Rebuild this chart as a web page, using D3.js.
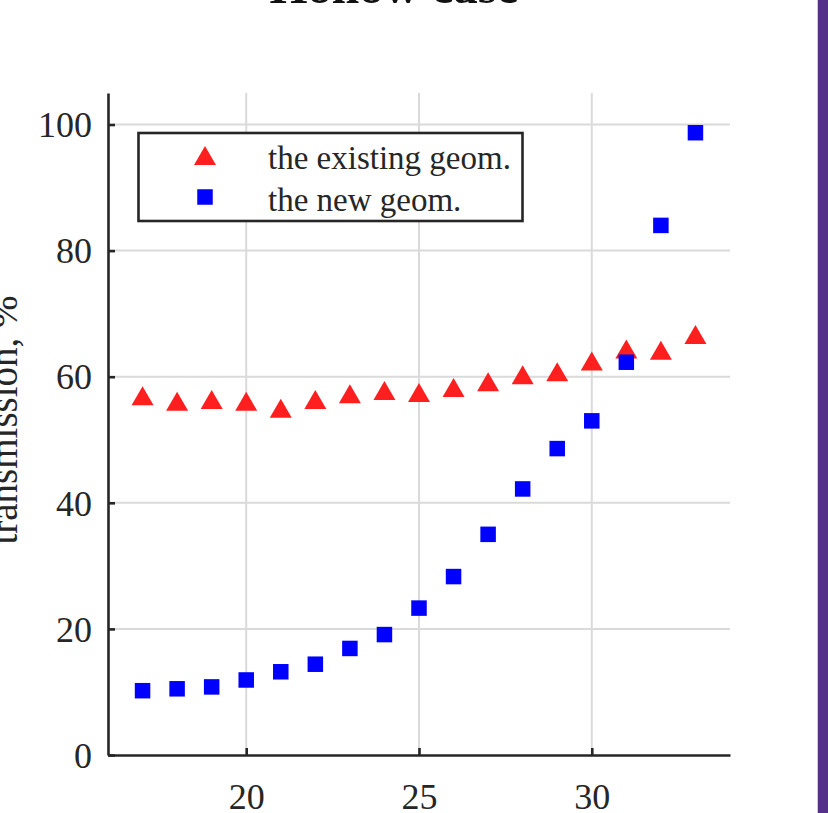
<!DOCTYPE html>
<html>
<head>
<meta charset="utf-8">
<script src="https://cdn.jsdelivr.net/npm/d3@7"></script>
<style>
  html, body { margin: 0; padding: 0; background: #ffffff; }
  svg { display: block; }
  text { font-family: "Liberation Serif", "Times New Roman", serif; fill: #262626; }
</style>
</head>
<body>
<svg id="chart" width="828" height="813"></svg>
<script>
// Transmission vs. x for the two geometries
const xValues = [17, 18, 19, 20, 21, 22, 23, 24, 25, 26, 27, 28, 29, 30, 31, 32, 33];
const existingGeom = [57.0, 56.1, 56.4, 56.1, 55.0, 56.4, 57.3, 57.8, 57.5, 58.3, 59.2, 60.3, 60.8, 62.5, 64.4, 64.2, 66.7];
const newGeom = [10.2, 10.5, 10.8, 11.9, 13.2, 14.4, 16.9, 19.1, 23.3, 28.3, 35.0, 42.2, 48.6, 53.0, 62.3, 84.0, 98.7];
const xTicks = [20, 25, 30];
const yTicks = [0, 20, 40, 60, 80, 100];
const seriesNames = ["the existing geom.", "the new geom."];
const titleText = "Hollow case";
const yLabelText = "transmission, %";

const svg = d3.select("#chart");
const W = 828, H = 813;
const axisColor = "#262626";

// side band on the right edge
svg.append("rect").attr("x", 817).attr("y", 0).attr("width", 1).attr("height", H).attr("fill", "#cfc8d8");
svg.append("rect").attr("x", 818).attr("y", 0).attr("width", 10).attr("height", H).attr("fill", "#553089");

const plot = { left: 108, right: 730, top: 93, bottom: 755 };
const x = d3.scaleLinear().domain([16, 34]).range([plot.left, plot.right]);
const y = d3.scaleLinear().domain([0, 105]).range([plot.bottom, plot.top]);

// title (sits at the very top edge)
svg.append("text")
  .attr("x", 394).attr("y", 3)
  .attr("text-anchor", "middle")
  .attr("font-size", 49).attr("font-weight", "bold")
  .style("fill", "#111")
  .text(titleText);

// grid lines
const grid = svg.append("g").attr("stroke", "#dadada").attr("stroke-width", 2);
grid.selectAll("line.gx").data(xTicks).join("line")
  .attr("x1", d => x(d)).attr("x2", d => x(d))
  .attr("y1", plot.top).attr("y2", plot.bottom);
grid.selectAll("line.gy").data(yTicks.filter(d => d > 0)).join("line")
  .attr("x1", plot.left).attr("x2", plot.right)
  .attr("y1", d => y(d)).attr("y2", d => y(d));

// axes with inward ticks
const xAxis = d3.axisBottom(x).tickValues(xTicks).tickSize(-7).tickPadding(28).tickSizeOuter(0);
const yAxis = d3.axisLeft(y).tickValues(yTicks).tickSize(-7).tickPadding(16).tickSizeOuter(0);

const gx = svg.append("g").attr("transform", `translate(0,${plot.bottom})`).call(xAxis);
const gy = svg.append("g").attr("transform", `translate(${plot.left},0)`).call(yAxis);
[gx, gy].forEach(g => {
  g.select(".domain").attr("stroke", axisColor).attr("stroke-width", 2.6);
  g.selectAll(".tick line").attr("stroke", axisColor).attr("stroke-width", 2.6);
  g.selectAll(".tick text")
    .attr("font-size", 36)
    .style("font-family", "'Liberation Serif', 'Times New Roman', serif")
    .style("fill", axisColor);
});
gx.selectAll(".tick text").attr("dy", "0.71em");
gy.selectAll(".tick text").attr("dy", "0.34em");

// y-axis label
svg.append("text")
  .attr("transform", `translate(17,${(plot.top + plot.bottom) / 2 - 4}) rotate(-90)`)
  .attr("text-anchor", "middle")
  .attr("font-size", 39)
  .text(yLabelText);

// markers
const triW = 22, triH = 19, sq = 15.5;
const triPath = (cx, cy) => `M${cx},${cy - triH / 2}L${cx + triW / 2},${cy + triH / 2}L${cx - triW / 2},${cy + triH / 2}Z`;

svg.append("g").selectAll("path").data(xValues).join("path")
  .attr("d", (d, i) => triPath(x(d), y(existingGeom[i])))
  .attr("fill", "#ff1f1f");

svg.append("g").selectAll("rect").data(xValues).join("rect")
  .attr("x", (d) => x(d) - sq / 2)
  .attr("y", (d, i) => y(newGeom[i]) - sq / 2)
  .attr("width", sq).attr("height", sq)
  .attr("fill", "#0000ff");

// legend
const lg = svg.append("g");
lg.append("rect")
  .attr("x", 138.5).attr("y", 133).attr("width", 384).attr("height", 88)
  .attr("fill", "#ffffff").attr("stroke", axisColor).attr("stroke-width", 2.6);
lg.append("path").attr("d", triPath(205, 155.5)).attr("fill", "#ff1f1f");
lg.append("rect").attr("x", 205 - sq / 2).attr("y", 197 - sq / 2).attr("width", sq).attr("height", sq).attr("fill", "#0000ff");
lg.selectAll("text").data(seriesNames).join("text")
  .attr("x", 268).attr("y", (d, i) => 169 + i * 41.5)
  .attr("font-size", 33)
  .text(d => d);
</script>
</body>
</html>
